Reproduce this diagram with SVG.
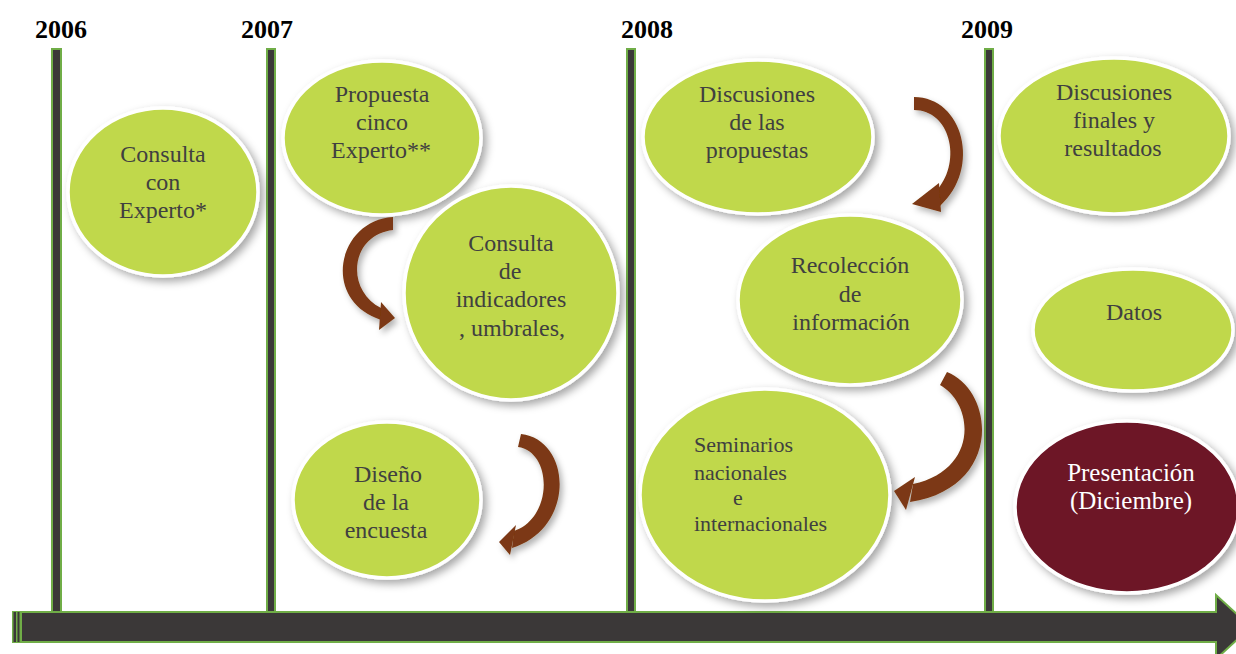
<svg xmlns="http://www.w3.org/2000/svg" width="1236" height="654" viewBox="0 0 1236 654" font-family="'Liberation Serif', 'Times New Roman', serif">
<defs>
<filter id="sh" x="-20%" y="-20%" width="150%" height="150%">
<feDropShadow dx="4" dy="4" stdDeviation="4" flood-color="#000" flood-opacity="0.35"/>
</filter>
<filter id="ash" x="-30%" y="-30%" width="170%" height="170%">
<feDropShadow dx="3" dy="4" stdDeviation="3" flood-color="#000" flood-opacity="0.3"/>
</filter>
</defs>
<style>
text{font-family:'Liberation Serif','Times New Roman',serif}
.yr{font-weight:bold;font-size:26px;fill:#000}
.bar{fill:#3b3838;stroke:#70ad47;stroke-width:2}
.node ellipse{fill:#c0d84b;stroke:#fff;stroke-width:3.5;filter:url(#sh)}
.node text{font-size:24px;fill:#404040;text-anchor:middle}
#n7 text{font-size:22px;text-anchor:start}
#n10 ellipse{fill:#6d1426}
#n10 text{fill:#fff;font-size:25px}
.arc{fill:#7b3912}
</style>
<rect width="1236" height="654" fill="#fff"/>

<g id="timeline">
<rect class="bar" x="52" y="49" width="9" height="563"/>
<rect class="bar" x="267" y="49" width="8" height="563"/>
<rect class="bar" x="627" y="49" width="8" height="563"/>
<rect class="bar" x="985" y="49" width="8" height="563"/>
<polygon class="bar" points="21,612 1216,612 1216,595 1251,627 1216,659 1216,642 21,642"/>
<rect x="12" y="611" width="10" height="32" fill="#70ad47"/>
<rect x="13.5" y="612" width="2.5" height="30" fill="#3b3838"/>
<rect x="17.5" y="612" width="2" height="30" fill="#3b3838"/>
<text class="yr" x="35" y="38">2006</text>
<text class="yr" x="241" y="38">2007</text>
<text class="yr" x="621" y="38">2008</text>
<text class="yr" x="961" y="38">2009</text>
</g>

<g id="n1" class="node">
<ellipse cx="163" cy="192" rx="95" ry="84"/>
<text x="163" y="162">Consulta</text>
<text x="163" y="190">con</text>
<text x="163" y="218">Experto*</text>
</g>
<g id="n2" class="node">
<ellipse cx="382" cy="138" rx="99" ry="77"/>
<text x="382" y="102">Propuesta</text>
<text x="382" y="130">cinco</text>
<text x="381" y="158">Experto**</text>
</g>
<g id="n3" class="node">
<ellipse cx="511" cy="293" rx="107" ry="107"/>
<text x="511" y="251">Consulta</text>
<text x="510" y="279">de</text>
<text x="511" y="307">indicadores</text>
<text x="512" y="336">, umbrales,</text>
</g>
<g id="n4" class="node">
<ellipse cx="387" cy="500" rx="94" ry="78"/>
<text x="388" y="482">Diseño</text>
<text x="386" y="510">de la</text>
<text x="386" y="538">encuesta</text>
</g>
<g id="n5" class="node">
<ellipse cx="758" cy="137" rx="115" ry="77"/>
<text x="757" y="102">Discusiones</text>
<text x="757" y="130">de las</text>
<text x="757" y="158">propuestas</text>
</g>
<g id="n6" class="node">
<ellipse cx="850" cy="300" rx="112" ry="85"/>
<text x="850" y="273">Recolección</text>
<text x="850" y="302">de</text>
<text x="851" y="330">información</text>
</g>
<g id="n7" class="node">
<ellipse cx="765" cy="495" rx="125" ry="106"/>
<text x="694" y="452">Seminarios</text>
<text x="694" y="480">nacionales</text>
<text x="733" y="505">e</text>
<text x="694" y="531">internacionales</text>
</g>
<g id="n8" class="node">
<ellipse cx="1114" cy="136" rx="115" ry="78"/>
<text x="1114" y="100">Discusiones</text>
<text x="1114" y="128">finales y</text>
<text x="1113" y="156">resultados</text>
</g>
<g id="n9" class="node">
<ellipse cx="1133" cy="330" rx="100" ry="61"/>
<text x="1134" y="320">Datos</text>
</g>
<g id="n10" class="node">
<ellipse cx="1127" cy="507" rx="112" ry="86"/>
<text x="1131" y="481">Presentación</text>
<text x="1131" y="509">(Diciembre)</text>
</g>

<g id="connectors" filter="url(#ash)">
<path class="arc" d="M393,217 C338,220 320,300 381,320 L381,308 C345,290 350,235 393,230 Z"/>
<polygon class="arc" points="381,302 395,318 379,330"/>
<path class="arc" d="M521,434 C572,440 576,528 512,548 L514,531 C553,518 553,452 518,447 Z"/>
<polygon class="arc" points="516,525 499,542 510,555"/>
<path class="arc" d="M914,97 C963,97 982,168 940,206 L938,189 C962,160 950,110 914,110 Z"/>
<polygon class="arc" points="939,183 912,204 941,212"/>
<path class="arc" d="M947,372 C996,392 1002,488 910,502 L913,484 C978,470 975,405 940,385 Z"/>
<polygon class="arc" points="915,477 894,491 906,510"/>
</g>
</svg>
